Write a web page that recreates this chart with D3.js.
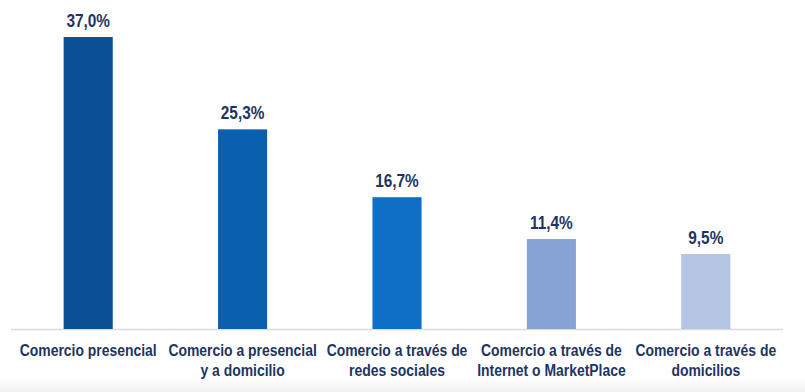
<!DOCTYPE html>
<html><head><meta charset="utf-8">
<script src="https://cdn.jsdelivr.net/npm/d3@7"></script>
<style>
body{margin:0;background:#fff;}
svg{display:block;}
text{font-family:"Liberation Sans",Arial,sans-serif;font-weight:bold;}
</style></head>
<body>
<svg id="c" width="805" height="392"></svg>
<script>
const categories = [
  ["Comercio presencial"],
  ["Comercio a presencial","y a domicilio"],
  ["Comercio a través de","redes sociales"],
  ["Comercio a través de","Internet o MarketPlace"],
  ["Comercio a través de","domicilios"]
];
const values = [37.0, 25.3, 16.7, 11.4, 9.5];
const valueLabels = ["37,0%","25,3%","16,7%","11,4%","9,5%"];
const colors = ["#0A5094","#0B5FAF","#0F6FC7","#87A3D6","#B4C4E3"];

const svg = d3.select("#c");
const defs = svg.append("defs");
const g = defs.append("linearGradient").attr("id","bg").attr("x1",0).attr("y1",0).attr("x2",0).attr("y2",1);
g.append("stop").attr("offset","0").attr("stop-color","#ffffff");
g.append("stop").attr("offset","1").attr("stop-color","#f1f1f1");
svg.append("rect").attr("x",0).attr("y",378).attr("width",805).attr("height",14).attr("fill","url(#bg)");

const idx = d3.range(values.length);
const x = d3.scaleBand().domain(idx).range([11,783]).paddingInner(0.682).paddingOuter(0.341);
const y = d3.scaleLinear().domain([0,37]).range([329,37]);

svg.append("line").attr("x1",11).attr("x2",783).attr("y1",329.5).attr("y2",329.5)
  .attr("stroke","#dcdcdc").attr("stroke-width",1.5);

svg.selectAll("rect.bar").data(idx).join("rect").attr("class","bar")
  .attr("x",i=>x(i)).attr("width",x.bandwidth())
  .attr("y",i=>y(values[i])).attr("height",i=>y(0)-y(values[i]))
  .attr("fill",i=>colors[i]);

svg.selectAll("text.val").data(idx).join("text").attr("class","val")
  .attr("transform",i=>`translate(${x(i)+x.bandwidth()/2},${y(values[i])-10}) scale(0.81,1)`)
  .attr("text-anchor","middle").attr("font-size",19).attr("fill","#1d3563")
  .text(i=>valueLabels[i]);

const cl = svg.selectAll("text.cat").data(idx).join("text").attr("class","cat")
  .attr("transform",i=>`translate(${x(i)+x.bandwidth()/2},356) scale(0.87,1)`)
  .attr("text-anchor","middle").attr("font-size",16).attr("fill","#1d3563");
cl.each(function(i){
  const t = d3.select(this);
  categories[i].forEach((line,k)=>{
    t.append("tspan").attr("x",0).attr("y",k*20).text(line);
  });
});
</script>
</body></html>
